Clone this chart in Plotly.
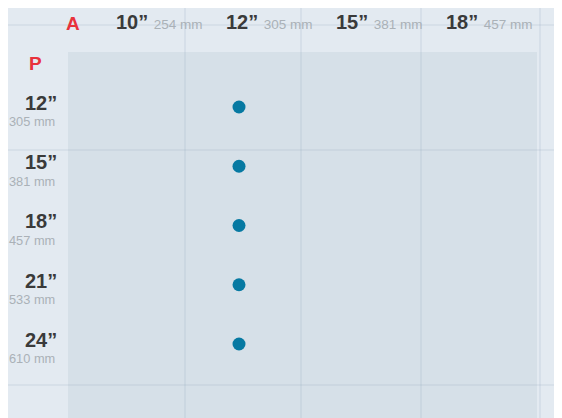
import plotly.graph_objects as go

# ---- data ----
col_inch = ["10”", "12”", "15”", "18”"]
col_mm = ["254 mm", "305 mm", "381 mm", "457 mm"]
row_inch = ["12”", "15”", "18”", "21”", "24”"]
row_mm = ["305 mm", "381 mm", "457 mm", "533 mm", "610 mm"]
# available combinations: (A column, P row)
dot_cols = ["12”", "12”", "12”", "12”", "12”"]
dot_rows = ["12”", "15”", "18”", "21”", "24”"]

W, H = 562, 418
FONT = "Liberation Sans, Arial, sans-serif"
RED = "#e8323c"
DARK = "#3a3a3a"
GREY = "#aab1b7"

xs = [col_inch.index(c) for c in dot_cols]
ys = [row_inch.index(r) for r in dot_rows]

fig = go.Figure()
fig.add_trace(go.Scatter(
    x=xs, y=ys, mode="markers",
    marker=dict(size=13, color="#0679a2", line=dict(width=0)),
    hoverinfo="skip", showlegend=False,
))

ann = []
# column headers
for i, (a, b) in enumerate(zip(col_inch, col_mm)):
    ann.append(dict(
        x=i, y=1, xref="x", yref="paper", yanchor="bottom", xanchor="left",
        xshift=-15, yshift=17, showarrow=False,
        text=f"<b>{a}</b> <span style='font-size:13.5px;color:{GREY}'>{b}</span>",
        font=dict(family=FONT, size=20, color=DARK),
    ))
# row headers
for j, (a, b) in enumerate(zip(row_inch, row_mm)):
    ann.append(dict(
        x=-0.02, y=j, xref="paper", yref="y", xanchor="right", yanchor="middle",
        yshift=4, showarrow=False, text=f"<b>{a}</b>",
        font=dict(family=FONT, size=20, color=DARK),
    ))
    ann.append(dict(
        x=-0.024, y=j, xref="paper", yref="y", xanchor="right", yanchor="middle",
        yshift=-15, showarrow=False, text=b,
        font=dict(family=FONT, size=12.8, color=GREY),
    ))
# axis letters
ann.append(dict(x=-0.008, y=1, xref="paper", yref="paper", xanchor="left", yanchor="bottom",
                yshift=16, showarrow=False, text="<b>A</b>",
                font=dict(family=FONT, size=19, color=RED)))
ann.append(dict(x=-0.052, y=1, xref="paper", yref="paper", xanchor="right", yanchor="top",
                yshift=1, showarrow=False, text="<b>P</b>",
                font=dict(family=FONT, size=19, color=RED)))

# faint fabric-like lines (decoration)
shapes = []
for px in [185, 301, 421, 540]:
    shapes.append(dict(type="line", xref="paper", yref="paper",
                       x0=(px - 68) / 469, x1=(px - 68) / 469, y0=-0.2, y1=1.2,
                       line=dict(color="rgba(150,170,190,0.16)", width=2), layer="below"))
for py in [25, 150, 385]:
    yy = 1 - (py - 52) / 366
    shapes.append(dict(type="line", xref="paper", yref="paper",
                       x0=-0.2, x1=1.2, y0=yy, y1=yy,
                       line=dict(color="rgba(150,170,190,0.15)", width=2), layer="below"))

fig.update_layout(
    width=W, height=H,
    margin=dict(l=60, r=33, t=44, b=8, pad=0),
    paper_bgcolor="#e3eaf1",
    plot_bgcolor="#d6e0e8",
    xaxis=dict(range=[-0.5545, 3.709], visible=False, fixedrange=True),
    yaxis=dict(range=[5.249, -0.928], visible=False, fixedrange=True),
    annotations=ann,
    shapes=shapes,
    showlegend=False,
)

fig.write_html("out.html")
